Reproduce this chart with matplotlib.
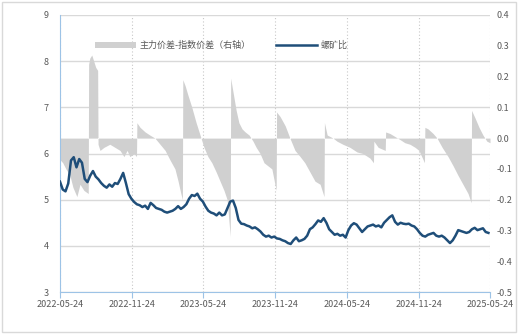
import numpy as np
import pandas as pd
import matplotlib
matplotlib.use("Agg")
import matplotlib.pyplot as plt
import matplotlib.dates as mdates
from matplotlib.ticker import FormatStrFormatter
from matplotlib.patches import Rectangle

plt.rcParams['font.family'] = ['Noto Sans CJK SC', 'DejaVu Sans']

# 螺矿比, weekly readings from 2022-05-24
ratio = [
    5.39, 5.22, 5.18, 5.35, 5.85, 5.92, 5.70, 5.88, 5.80, 5.45,
    5.38, 5.52, 5.62, 5.50, 5.44, 5.36, 5.30, 5.26, 5.33, 5.28,
    5.36, 5.34, 5.45, 5.58, 5.36, 5.12, 5.02, 4.95, 4.90, 4.88,
    4.84, 4.87, 4.80, 4.93, 4.88, 4.82, 4.80, 4.78, 4.74, 4.72,
    4.74, 4.76, 4.80, 4.86, 4.80, 4.84, 4.90, 5.02, 5.10, 5.08,
    5.13, 5.02, 4.96, 4.85, 4.76, 4.72, 4.70, 4.66, 4.72, 4.66,
    4.68, 4.82, 4.96, 4.98, 4.82, 4.56, 4.48, 4.47, 4.44, 4.42,
    4.38, 4.40, 4.36, 4.31, 4.24, 4.20, 4.22, 4.18, 4.20, 4.16,
    4.15, 4.12, 4.10, 4.06, 4.04, 4.12, 4.18, 4.10, 4.12, 4.15,
    4.22, 4.36, 4.40, 4.47, 4.55, 4.52, 4.60, 4.50, 4.36, 4.30,
    4.24, 4.26, 4.22, 4.24, 4.18, 4.34, 4.44, 4.49, 4.46, 4.38,
    4.30, 4.36, 4.42, 4.44, 4.46, 4.42, 4.44, 4.40, 4.50, 4.56,
    4.62, 4.66, 4.52, 4.46, 4.50, 4.48, 4.47, 4.48, 4.44, 4.42,
    4.36, 4.28, 4.22, 4.20, 4.24, 4.26, 4.28, 4.22, 4.20, 4.22,
    4.18, 4.12, 4.06, 4.12, 4.22, 4.34, 4.32, 4.30, 4.28, 4.30,
    4.36, 4.39, 4.34, 4.36, 4.38, 4.30, 4.28,
]
ratio_dates = pd.date_range("2022-05-24", periods=len(ratio), freq="7D")

# 主力价差-指数价差 (right axis)
spread_dates = [
    "2022-05-24", "2022-05-31", "2022-06-08", "2022-06-18", "2022-06-26", "2022-07-06",
    "2022-07-14", "2022-07-24", "2022-08-04",
    "2022-08-05", "2022-08-08", "2022-08-13", "2022-08-18", "2022-08-23", "2022-08-28",
    "2022-08-29", "2022-09-03", "2022-09-13", "2022-09-28", "2022-10-11", "2022-10-24",
    "2022-11-03", "2022-11-11", "2022-11-18", "2022-11-29", "2022-12-05",
    "2022-12-06", "2022-12-14", "2022-12-27", "2023-01-08", "2023-01-21", "2023-02-03",
    "2023-02-16", "2023-02-28", "2023-03-13", "2023-03-21", "2023-03-28", "2023-04-01",
    "2023-04-02", "2023-04-08", "2023-04-15", "2023-04-25", "2023-05-06", "2023-05-16",
    "2023-05-26", "2023-06-05", "2023-06-15", "2023-06-26", "2023-07-06", "2023-07-16",
    "2023-07-24", "2023-08-01",
    "2023-08-02", "2023-08-08", "2023-08-16", "2023-08-23", "2023-08-31", "2023-09-08",
    "2023-09-18", "2023-09-28", "2023-10-06", "2023-10-16", "2023-10-26", "2023-11-05",
    "2023-11-15", "2023-11-26",
    "2023-11-27", "2023-12-06", "2023-12-19", "2023-12-31", "2024-01-13", "2024-01-26",
    "2024-02-07", "2024-02-20", "2024-03-04", "2024-03-17", "2024-03-27",
    "2024-03-28", "2024-04-04", "2024-04-19", "2024-04-29", "2024-05-14", "2024-06-01",
    "2024-06-19", "2024-07-04", "2024-07-22", "2024-07-31",
    "2024-08-01", "2024-08-12", "2024-08-30",
    "2024-08-31", "2024-09-11", "2024-09-24", "2024-10-07", "2024-10-19", "2024-11-01",
    "2024-11-14", "2024-11-24", "2024-12-08",
    "2024-12-09", "2024-12-17", "2024-12-30", "2025-01-09", "2025-01-22", "2025-02-06",
    "2025-02-19", "2025-03-03", "2025-03-16", "2025-03-29", "2025-04-06",
    "2025-04-07", "2025-04-16", "2025-04-26", "2025-05-06", "2025-05-16", "2025-05-24",
]
spread = [
    -0.07, -0.08, -0.10, -0.12, -0.16, -0.19, -0.15, -0.17, -0.18,
    0.24, 0.26, 0.27, 0.25, 0.23, 0.22,
    -0.02, -0.04, -0.03, -0.02, -0.03, -0.04, -0.06, -0.04, -0.06, -0.05, -0.06,
    0.05, 0.035, 0.02, 0.01, 0.0, -0.02, -0.04, -0.07, -0.10, -0.14, -0.18, -0.20,
    0.19, 0.17, 0.14, 0.10, 0.05, 0.01, -0.03, -0.06, -0.08, -0.11, -0.14, -0.17,
    -0.20, -0.32,
    0.195, 0.15, 0.09, 0.05, 0.03, 0.02, 0.01, -0.01, -0.03, -0.05, -0.08, -0.09,
    -0.10, -0.17,
    0.085, 0.07, 0.04, 0.0, -0.04, -0.06, -0.08, -0.11, -0.14, -0.15, -0.19,
    0.05, 0.01, 0.0, -0.01, -0.02, -0.03, -0.045, -0.05, -0.065, -0.08,
    -0.01, -0.03, -0.04,
    0.02, 0.015, 0.005, -0.005, -0.015, -0.02, -0.03, -0.04, -0.08,
    0.035, 0.03, 0.015, 0.0, -0.03, -0.06, -0.09, -0.12, -0.15, -0.18, -0.21,
    0.09, 0.065, 0.035, 0.01, -0.01, -0.015,
]

tick_dates = ["2022-05-24", "2022-11-24", "2023-05-24", "2023-11-24",
              "2024-05-24", "2024-11-24", "2025-05-24"]
left_ticks = [3, 4, 5, 6, 7, 8, 9]
right_ticks = [-0.5, -0.4, -0.3, -0.2, -0.1, 0.0, 0.1, 0.2, 0.3, 0.4]


# right axis -0.5..0.4 maps onto left axis 3..9
def to_left(v):
    return (np.asarray(v) + 0.5) / 0.9 * 6 + 3


def to_right(v):
    return (np.asarray(v) - 3) / 6 * 0.9 - 0.5


fig = plt.figure(figsize=(5.18, 3.34), dpi=100)
ax = fig.add_axes([60 / 518, 1 - 292 / 334, 430 / 518, 277 / 334])

sd = pd.to_datetime(spread_dates)
ax.fill_between(sd, to_left(0), to_left(spread), color="#D0D0D0", lw=0,
                zorder=1, label="主力价差-指数价差（右轴）")
ax.plot(ratio_dates, ratio, color="#1F4E79", lw=1.8, zorder=3, label="螺矿比")

ax.set_xlim(pd.Timestamp("2022-05-24"), pd.Timestamp("2025-05-24"))
ax.set_ylim(3, 9)
ax.set_yticks(left_ticks)
ax.set_xticks(pd.to_datetime(tick_dates))
ax.xaxis.set_major_formatter(mdates.DateFormatter("%Y-%m-%d"))

ax.set_axisbelow(True)
ax.grid(axis="y", color="#D9D9D9", lw=1)
ax.grid(axis="x", color="#C8C8C8", lw=0.8, ls=(0, (1, 2)))
for s in ["top", "right"]:
    ax.spines[s].set_visible(False)
ax.spines["left"].set_color("#9DC3E6")
ax.spines["bottom"].set_color("#9DC3E6")
ax.tick_params(axis="y", length=0, pad=8, labelsize=6.5, labelcolor="#595959")
ax.tick_params(axis="x", length=4, width=0.8, color="#9DC3E6", pad=2,
               labelsize=6.5, labelcolor="#595959")

sec = ax.secondary_yaxis("right", functions=(to_right, to_left))
sec.set_yticks(right_ticks)
sec.yaxis.set_major_formatter(FormatStrFormatter("%.1f"))
sec.spines["right"].set_visible(False)
sec.tick_params(length=0, pad=5, labelsize=6.5, labelcolor="#595959")

ax.legend(loc="center", bbox_to_anchor=(0.375, 0.89), ncol=2, frameon=False,
          fontsize=6.5, handlelength=4.5, handleheight=0.6, columnspacing=2.8,
          handletextpad=0.4, labelcolor="#595959")

fig.patches.append(Rectangle((0.003, 0.006), 0.994, 0.988, transform=fig.transFigure,
                             fill=False, edgecolor="#D9D9D9", lw=1))

fig.savefig("out.png", dpi=100)
